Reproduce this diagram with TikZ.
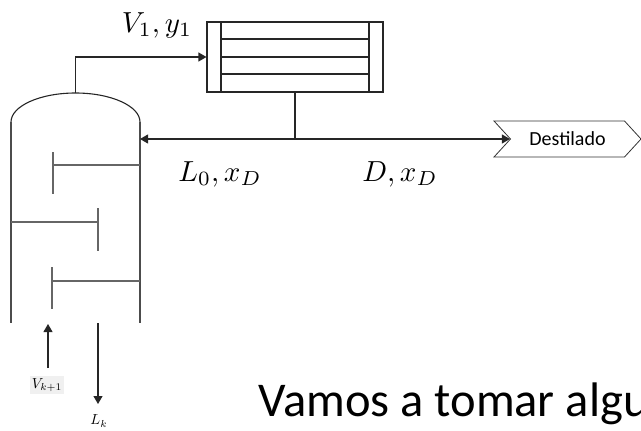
\documentclass[tikz,border=0pt]{standalone}
\usepackage{fontspec}
\newfontfamily\calibri{Carlito}
\usetikzlibrary{arrows.meta,shapes.symbols}
\tikzset{
  ln/.style={line width=1.1pt,draw=black!85},
  colln/.style={line width=1.1pt,draw=black!70},
  tray/.style={line width=1.1pt,draw=black!60},
  arr/.style={ln,-{Triangle[length=8pt,width=9pt]}},
  mathlab/.style={scale=2.9,inner sep=0pt,anchor=base},
}
\begin{document}
\begin{tikzpicture}[x=1pt,y=-1pt]
\useasboundingbox (0,0) rectangle (641,431);
% column
\coordinate (colTL) at (11,122);
\coordinate (colTR) at (140,122);
\coordinate (colBL) at (11,323);
\coordinate (colBR) at (140,323);
\coordinate (coltop) at (75.5,93);
\coordinate (colin) at (140,139);
\draw[ln] (colTL) .. controls (11,106) and (40,93) .. (coltop) .. controls (111,93) and (140,106) .. (colTR);
\draw[colln] (colTL) -- (colBL);
\draw[colln] (colTR) -- (colBR);
% trays
\draw[tray] (140,165) -- (53,165) (53,152) -- (53,194);
\draw[tray] (11,222) -- (98,222) (98,208) -- (98,251);
\draw[tray] (140,281) -- (52,281) (52,267) -- (52,309);
% condenser
\node[ln,draw,rectangle,minimum width=176pt,minimum height=70pt,inner sep=0pt] (cond) at (295,57) {};
\draw[ln] (221,22) -- (221,92) (369,22) -- (369,92);
\draw[ln] (221,39) -- (369,39) (221,74) -- (369,74);
\draw[ln,line width=1.4pt] (221,57) -- (369,57);
% destilado
\node[signal,signal to=east,signal from=west,draw,line width=0.8pt,draw=black!80,
      minimum width=147pt,minimum height=36pt,inner sep=0pt,signal pointer angle=95,
      font=\calibri\fontsize{20}{22}\selectfont] (dest) at (567.5,139) {Destilado};
% connections
\coordinate (split) at (295,139);
\draw[arr] (coltop) |- (cond.west);
\draw[ln] (cond.south) -- (split);
\draw[arr] (split) -- (colin);
\draw[arr] (split) -- (dest.west);
% feed arrows
\coordinate (vstart) at (48,368);
\coordinate (vend) at (48,324);
\coordinate (lstart) at (98,323);
\coordinate (lend) at (98,404);
\draw[arr] (vstart) -- (vend);
\draw[arr] (lstart) -- (lend);
\node[fill=black!6,inner sep=1.5pt,scale=1.45] (vlab) at (47,385) {$V_{k+1}$};
\node[scale=1.45,inner sep=0pt] (llab) at (99,421) {$L_k$};
% labels
\node[mathlab] (v1) at (157,32) {$V_1, y_1$};
\node[mathlab] (l0) at (220,181) {$L_0, x_D$};
\node[mathlab] (dx) at (400,181) {$D, x_D$};
\node[font=\calibri\fontsize{48.5}{50}\selectfont,inner sep=0pt,anchor=base west] (txt) at (258,416) {Vamos a tomar algu};
\end{tikzpicture}
\end{document}
